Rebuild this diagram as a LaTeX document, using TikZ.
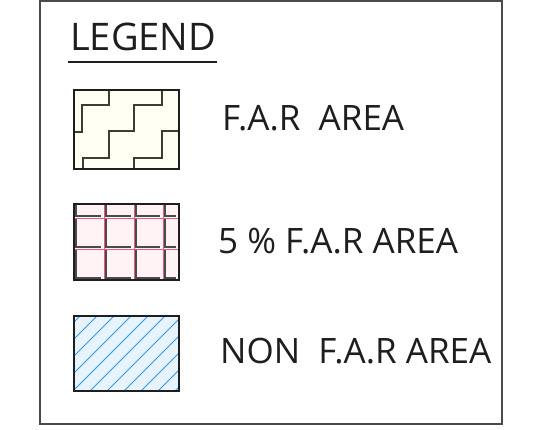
\documentclass[tikz,border=0pt]{standalone}
\usepackage{fontspec}
\setmainfont{Open Sans}
\usetikzlibrary{positioning}
\definecolor{ink}{HTML}{1E1E1E}
\definecolor{ink2}{HTML}{4A4A4A}
\definecolor{olive1}{HTML}{3C3C30}
\definecolor{ivory1}{HTML}{FFFFF4}
\definecolor{pink1}{HTML}{FFF3F6}
\definecolor{red1}{HTML}{E0607A}
\definecolor{blue1}{HTML}{3A95E2}
\definecolor{sky1}{HTML}{E6F4FF}

\begin{document}
\begin{tikzpicture}[x=1pt,y=-1pt,
  swatch/.style={draw=ink,line width=1.6pt},
  label/.style={anchor=base west,inner sep=0pt,text=ink,font=\fontsize{35}{40}\selectfont}]
  \useasboundingbox (0,0) rectangle (543,429);
  % frame and title
  \draw[ink2,line width=1.8pt] (40,1) rectangle (502,424);
  \node[label,font=\fontsize{38}{44}\selectfont] (legend) at (70,50) {LEGEND};
  \draw[ink,line width=1.3pt] ([xshift=-2pt,yshift=-12pt]legend.base west) -- ([xshift=1pt,yshift=-12pt]legend.base east);
  % F.A.R area: stairs
  \fill[ivory1] (74,90) rectangle (179,169);
  \draw[olive1,line width=1.1pt] (109,90) -- (109,105) -- (82,105) -- (82,132) -- (74,132);
  \draw[olive1,line width=1.1pt] (162,90) -- (162,105) -- (134,105) -- (134,131) -- (109,131) -- (109,158) -- (83,158) -- (83,169);
  \draw[olive1,line width=1.1pt] (179,131) -- (162,131) -- (162,158) -- (134,158) -- (134,169);
  \draw[swatch] (74,90) rectangle (179,169);
  \node[label] (far) at (222,130) {F.A.R~~AREA};
  % 5 % F.A.R area: bricks
  \fill[pink1] (74,204) rectangle (179,280);
  \foreach \x in {104,134,163} \draw[red1,line width=0.6pt] (\x,204) -- (\x,280);
  \foreach \y in {218,249} \draw[red1,line width=0.6pt] (74,\y) -- (179,\y);
  \foreach \x/\n in {74/104,104/134,134/163,163/179}
    \foreach \t/\b in {204/218,218/249,249/280}
      \draw[ink2,line width=1.2pt] (\x+2,\t+1) -- (\x+2,\b-2) -- (\n-3,\b-2);
  \draw[swatch] (74,204) rectangle (179,280);
  \node[label] (fivefar) at (218,253) {5 \% F.A.R AREA};
  % non F.A.R area: hatch
  \fill[sky1] (74,316) rectangle (179,391);
  \begin{scope}
    \clip (74,316) rectangle (179,391);
    \foreach \a in {-80,-63,...,180} \draw[blue1,line width=1pt] (\a,391) -- ++(75,-75);
  \end{scope}
  \draw[swatch] (74,316) rectangle (179,391);
  \node[label] (nonfar) at (220,363) {NON~~F.A.R AREA};
\end{tikzpicture}
\end{document}
